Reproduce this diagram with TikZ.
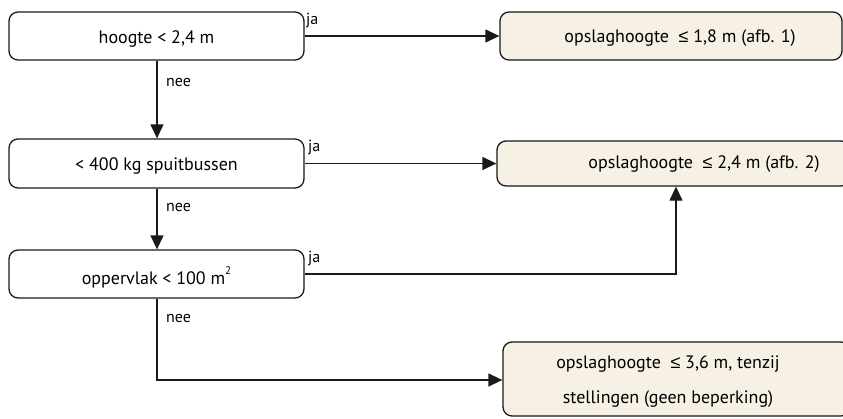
\documentclass[tikz,border=0pt]{standalone}
\usepackage{fontspec}
\setmainfont{PT Sans}
\newfontfamily\symf{Liberation Sans}
\usetikzlibrary{arrows.meta}
\definecolor{beige}{HTML}{F6F0E5}
\definecolor{edge}{HTML}{1A1A1A}
\newcommand{\leqs}{{\symf ≤}}
\tikzset{
  qbox/.style={draw=edge, line width=1.3pt, rounded corners=9pt, inner sep=0pt},
  abox/.style={qbox, fill=beige},
  txt/.style={inner sep=0pt, font=\fontsize{18}{21}\selectfont},
  lbl/.style={inner sep=0pt, font=\fontsize{16}{18}\selectfont},
  conn/.style={draw=edge, line width=1.3pt, -{Triangle[length=14pt,width=13pt]}}
}
\begin{document}
\begin{tikzpicture}[x=1pt,y=-1pt]
\useasboundingbox (0,0) rectangle (843,418);
% question boxes
\node[qbox, minimum width=295pt, minimum height=48pt] (q1) at (156.5,36) {};
\node[txt] (t1) at (156.5,39) {hoogte < 2,4 m};
\node[qbox, minimum width=295pt, minimum height=49pt] (q2) at (156.5,163.5) {};
\node[txt] (t2) at (156.5,166) {< 400 kg spuitbussen};
\node[qbox, minimum width=295pt, minimum height=48pt] (q3) at (156.5,274) {};
\node[txt] (t3) at (156.5,277) {oppervlak < 100 m\raisebox{1.1ex}{\fontsize{11}{12}\selectfont 2}};
% answer boxes
\node[abox, minimum width=342pt, minimum height=48pt] (a1) at (671,36) {};
\node[txt] (u1) at (680,38) {opslaghoogte\ \ \leqs\ 1,8 m (afb. 1)};
\node[abox, minimum width=353pt, minimum height=45pt] (a2) at (673.5,163.5) {};
\node[txt] (u2) at (704,164) {opslaghoogte\ \ \leqs\ 2,4 m (afb. 2)};
\node[abox, minimum width=347pt, minimum height=74pt] (a3) at (676.5,379) {};
\node[txt] (u3a) at (668,364) {opslaghoogte\ \ \leqs\ 3,6 m, tenzij};
\node[txt] (u3b) at (668,399) {stellingen (geen beperking)};
% connectors
\coordinate (c1) at (676,274);
\coordinate (c2) at (157,380);
\draw[conn] (q1.east) -- (a1.west);
\draw[conn] (q1.south -| 157,0) -- (q2.north -| 157,0);
\draw[conn] (q2.east) -- (q2.east -| a2.west);
\draw[conn] (q2.south -| 157,0) -- (q3.north -| 157,0);
\draw[conn] (q3.east) -- (c1) -- (a2.south -| c1);
\draw[conn] (q3.south -| 157,0) -- (c2) -- (c2 -| a3.west);
% labels
\node[lbl, anchor=west] (j1) at (306,21) {ja};
\node[lbl, anchor=west] (j2) at (308,148) {ja};
\node[lbl, anchor=west] (j3) at (308,259) {ja};
\node[lbl, anchor=west] (n1) at (166,82) {nee};
\node[lbl, anchor=west] (n2) at (166,207) {nee};
\node[lbl, anchor=west] (n3) at (166,318) {nee};
\end{tikzpicture}
\end{document}
